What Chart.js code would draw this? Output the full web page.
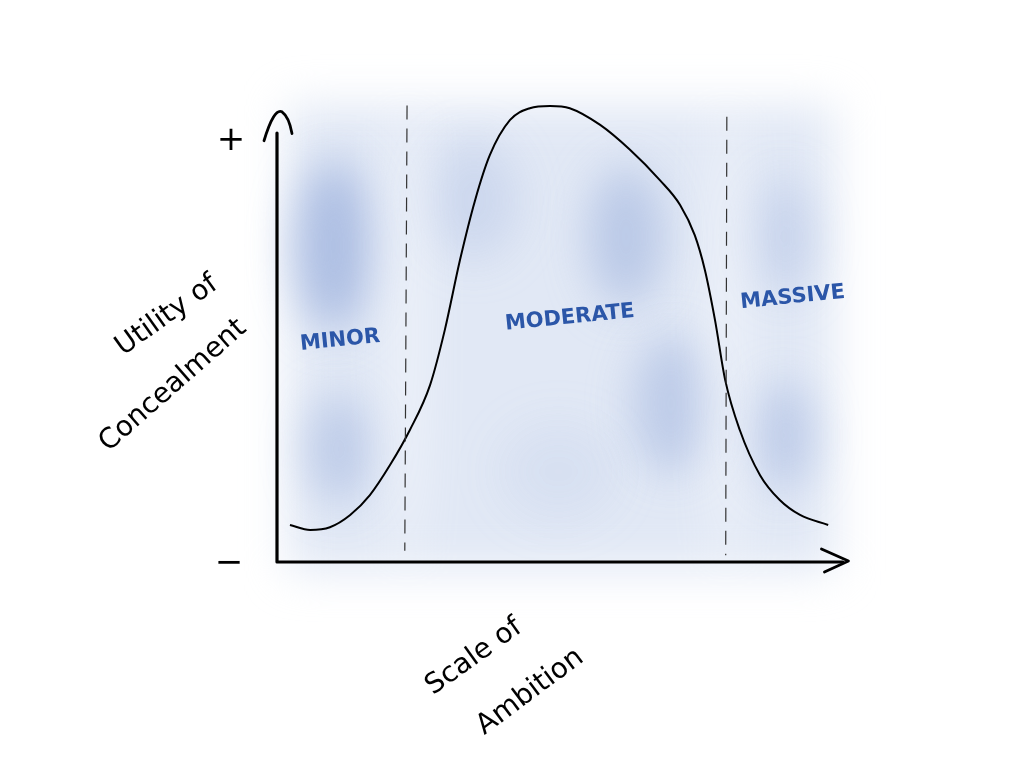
<!DOCTYPE html>
<html><head><meta charset="utf-8">
<script src="https://cdn.jsdelivr.net/npm/chart.js@4/dist/chart.umd.min.js"></script>
<style>html,body{margin:0;padding:0;background:#fff}#wrap{width:1024px;height:768px}</style>
</head><body><div id="wrap"><canvas id="c" width="1024" height="768"></canvas></div>
<script>
const curveX = [2.3,5.9,9.4,13.0,16.5,20.1,23.6,27.2,29.8,32.5,35.2,37.8,41.4,44.9,48.5,52.0,57.4,62.7,68.0,71.6,74.2,76.0,77.8,79.6,82.2,85.8,89.3,92.9,97.9];
const curveY = [8.2,7.1,7.7,10.4,14.8,21.5,29.2,39.2,51.3,66.8,80.1,90.0,97.8,100.4,100.9,100.4,96.7,91.2,84.5,79.0,72.3,64.6,53.5,40.3,29.2,19.2,13.7,10.4,8.2];
const dividerX = [23.1, 79.9];
const regionLabels = ["MINOR","MODERATE","MASSIVE"];
const regionLabelX = [11.2, 52.0, 91.6];
const regionLabelY = [49.0, 54.0, 58.5];
const xTitle = ["Scale of","Ambition"];
const yTitle = ["Utility of","Concealment"];
const yEndLabels = ["+","−"];

const bgPlugin = {
  id:'bg',
  beforeDraw(chart){
    const {ctx, scales:{x,y}} = chart;
    ctx.save();
    ctx.filter='blur(22px)';
    ctx.fillStyle='rgba(215,224,241,0.75)';
    ctx.fillRect(x.getPixelForValue(2), y.getPixelForValue(101), x.getPixelForValue(99)-x.getPixelForValue(2), y.getPixelForValue(-2)-y.getPixelForValue(101));
    const blobs=[[10,70,38,85,0.8],[11,25,32,55,0.55],[35,80,45,60,0.3],[62,72,38,70,0.6],[70,35,38,70,0.55],[90,28,30,55,0.55],[90,72,30,60,0.4],[50,20,60,50,0.15]];
    blobs.forEach(b=>{
      ctx.fillStyle='rgba(160,180,222,'+b[4]+')';
      ctx.beginPath();
      ctx.ellipse(x.getPixelForValue(b[0]), y.getPixelForValue(b[1]), b[2], b[3], 0, 0, Math.PI*2);
      ctx.fill();
    });
    ctx.fillStyle='rgba(255,255,255,0.55)';
    dividerX.forEach(d=>{
      ctx.beginPath();
      ctx.ellipse(x.getPixelForValue(d), y.getPixelForValue(50), 14, 240, 0, 0, Math.PI*2);
      ctx.fill();
    });
    ctx.restore();
  },
  afterDraw(chart){
    const {ctx, scales:{x,y}} = chart;
    ctx.save();
    ctx.strokeStyle='#333'; ctx.lineWidth=1.2; ctx.setLineDash([14,9]);
    ctx.beginPath(); ctx.moveTo(x.getPixelForValue(dividerX[0]), y.getPixelForValue(101)); ctx.lineTo(x.getPixelForValue(dividerX[0]-0.4), y.getPixelForValue(2.5)); ctx.stroke();
    ctx.beginPath(); ctx.moveTo(x.getPixelForValue(dividerX[1]), y.getPixelForValue(98.5)); ctx.lineTo(x.getPixelForValue(dividerX[1]-0.2), y.getPixelForValue(1.5)); ctx.stroke();
    ctx.setLineDash([]);
    const x0=x.getPixelForValue(0), y0=y.getPixelForValue(0);
    ctx.strokeStyle='#000'; ctx.lineWidth=3.2; ctx.lineCap='round'; ctx.lineJoin='round';
    ctx.beginPath(); ctx.moveTo(x0, y.getPixelForValue(94.9)); ctx.lineTo(x0, y0); ctx.lineTo(x.getPixelForValue(100.5), y0); ctx.stroke();
    ctx.lineWidth=2.8;
    ctx.beginPath(); ctx.moveTo(x0-13, y.getPixelForValue(93.2)); ctx.quadraticCurveTo(x0-3, y.getPixelForValue(100.5), x0+5, y.getPixelForValue(99.6)); ctx.quadraticCurveTo(x0+12, y.getPixelForValue(98.5), x0+15, y.getPixelForValue(94.8)); ctx.stroke();
    const xe=x.getPixelForValue(101.5);
    ctx.beginPath(); ctx.moveTo(xe-27, y0-13); ctx.lineTo(xe, y0-1); ctx.lineTo(xe-24, y0+10); ctx.stroke();
    ctx.fillStyle='#000'; ctx.font='34px "DejaVu Sans"'; ctx.textAlign='center'; ctx.textBaseline='middle';
    ctx.fillText(yEndLabels[0], x0-46, y.getPixelForValue(93));
    ctx.fillText(yEndLabels[1], x0-48, y0+2);
    ctx.fillStyle='#2b56a8'; ctx.font='bold 21px "DejaVu Sans"';
    regionLabels.forEach((t,i)=>{
      ctx.save(); ctx.translate(x.getPixelForValue(regionLabelX[i]), y.getPixelForValue(regionLabelY[i])); ctx.rotate(-0.1);
      ctx.fillText(t,0,0); ctx.restore();
    });
    ctx.fillStyle='#000'; ctx.font='28px "DejaVu Sans"';
    const tt=(t,px,py,a)=>{ctx.save();ctx.translate(px,py);ctx.rotate(a);ctx.fillText(t,0,0);ctx.restore();};
    tt(yTitle[0], x0-110, y.getPixelForValue(54.5), -0.62);
    tt(yTitle[1], x0-104, y.getPixelForValue(39), -0.72);
    tt(xTitle[0], x.getPixelForValue(35), y0+95, -0.62);
    tt(xTitle[1], x.getPixelForValue(45), y0+130, -0.64);
    ctx.restore();
  }
};

new Chart(document.getElementById('c'), {
  type:'line',
  data:{datasets:[{data:curveX.map((v,i)=>({x:v,y:curveY[i]})), borderColor:'#000', borderWidth:2, pointRadius:0, tension:0.4, cubicInterpolationMode:'monotone', clip:false, fill:false}]},
  options:{
    responsive:false, animation:false,
    layout:{padding:{left:277,right:184,top:110,bottom:206}},
    plugins:{legend:{display:false},tooltip:{enabled:false}},
    scales:{
      x:{type:'linear',min:0,max:100,display:false},
      y:{min:0,max:100,display:false}
    }
  },
  plugins:[bgPlugin]
});
</script></body></html>
